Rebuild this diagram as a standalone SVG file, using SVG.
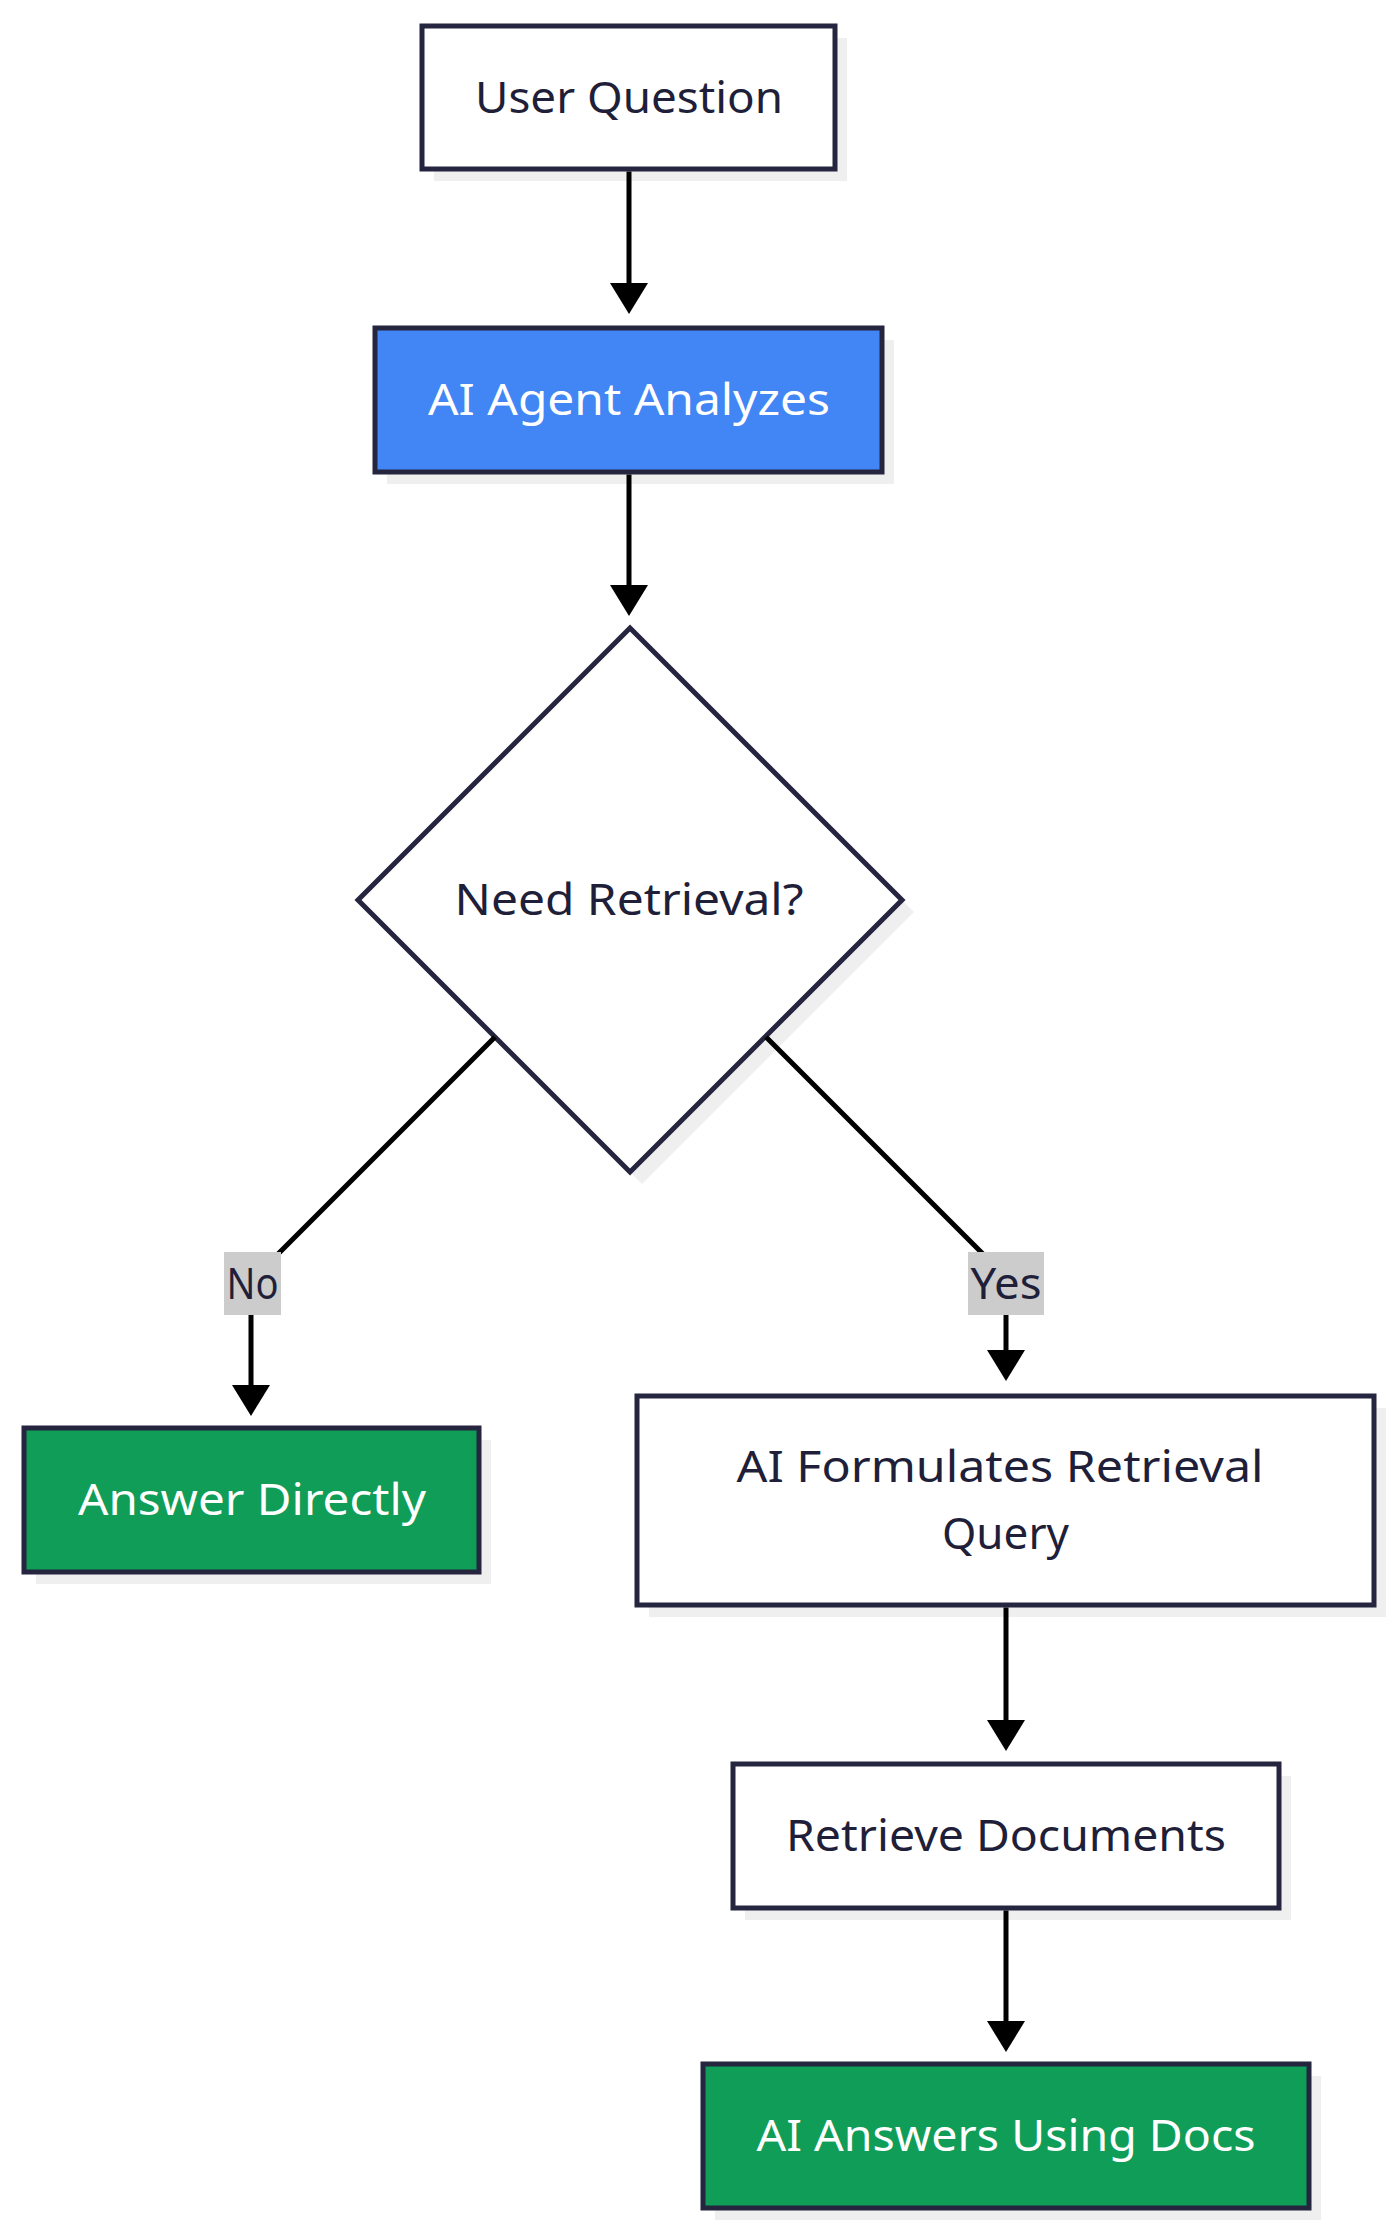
<svg xmlns="http://www.w3.org/2000/svg" width="1400" height="2236" viewBox="0 0 1400 2236">
<defs>
<style>
.shadow{fill:#efefef;stroke:none}
.node{stroke:#25253f;stroke-width:5}
.plain{fill:#ffffff}
.blue{fill:#4285f4}
.green{fill:#0f9d58}
.t{font-family:"Noto Sans","Open Sans","DejaVu Sans",sans-serif;font-size:44px;text-anchor:middle}
.dark{fill:#1f1f3a}
.light{fill:#ffffff}
.edge{fill:none;stroke:#000000;stroke-width:5}
.lbl{fill:#cccccc}
</style>
<marker id="arrow" viewBox="0 0 31 38" refX="21" refY="19" markerWidth="31" markerHeight="38" markerUnits="userSpaceOnUse" orient="auto">
<path d="M0,0 L31,19 L0,38 Z" fill="#000000"/>
</marker>
</defs>
<rect width="1400" height="2236" fill="#ffffff"/>

<g id="node-user-question">
<rect class="shadow" x="434" y="38" width="413" height="143"/>
<rect class="node plain" x="422" y="26" width="413" height="143"/>
<text class="t dark" x="629" y="113" textLength="308" lengthAdjust="spacingAndGlyphs">User Question</text>
</g>

<g id="node-ai-agent">
<rect class="shadow" x="387" y="340" width="507" height="144"/>
<rect class="node blue" x="375" y="328" width="507" height="144"/>
<text class="t light" x="629" y="415" textLength="402" lengthAdjust="spacingAndGlyphs">AI Agent Analyzes</text>
</g>

<g id="node-need-retrieval">
<polygon class="shadow" points="642,640 914,912 642,1184 370,912"/>
<polygon class="node plain" points="630,628 902,900 630,1172 358,900"/>
<text class="t dark" x="629" y="915" textLength="349" lengthAdjust="spacingAndGlyphs">Need Retrieval?</text>
</g>

<g id="node-answer-directly">
<rect class="shadow" x="36" y="1440" width="455" height="144"/>
<rect class="node green" x="24" y="1428" width="455" height="144"/>
<text class="t light" x="252" y="1515" textLength="348" lengthAdjust="spacingAndGlyphs">Answer Directly</text>
</g>

<g id="node-formulate-query">
<rect class="shadow" x="649" y="1408" width="737" height="209"/>
<rect class="node plain" x="637" y="1396" width="737" height="209"/>
<text class="t dark" x="1000" y="1482" textLength="527" lengthAdjust="spacingAndGlyphs">AI Formulates Retrieval</text>
<text class="t dark" x="1005.5" y="1549" textLength="127" lengthAdjust="spacingAndGlyphs">Query</text>
</g>

<g id="node-retrieve-documents">
<rect class="shadow" x="745" y="1776" width="546" height="144"/>
<rect class="node plain" x="733" y="1764" width="546" height="144"/>
<text class="t dark" x="1006" y="1851" textLength="440" lengthAdjust="spacingAndGlyphs">Retrieve Documents</text>
</g>

<g id="node-ai-answers">
<rect class="shadow" x="715" y="2076" width="606" height="144"/>
<rect class="node green" x="703" y="2064" width="606" height="144"/>
<text class="t light" x="1006" y="2151" textLength="499" lengthAdjust="spacingAndGlyphs">AI Answers Using Docs</text>
</g>

<g id="connectors">
<path class="edge" d="M629,171.5 L629,304" marker-end="url(#arrow)"/>
<path class="edge" d="M629,474.5 L629,606" marker-end="url(#arrow)"/>
<path class="edge" d="M495,1037 L251,1281 L251,1406" marker-end="url(#arrow)"/>
<path class="edge" d="M766,1037 L1006,1277 L1006,1371" marker-end="url(#arrow)"/>
<path class="edge" d="M1006,1607.5 L1006,1741" marker-end="url(#arrow)"/>
<path class="edge" d="M1006,1910.5 L1006,2042" marker-end="url(#arrow)"/>
<g id="label-no">
<rect class="lbl" x="224" y="1252" width="57" height="63"/>
<text class="t dark" x="252.5" y="1299" textLength="52" lengthAdjust="spacingAndGlyphs">No</text>
</g>
<g id="label-yes">
<rect class="lbl" x="968" y="1252" width="76" height="63"/>
<text class="t dark" x="1006" y="1299" textLength="71" lengthAdjust="spacingAndGlyphs">Yes</text>
</g>
</g>
</svg>
